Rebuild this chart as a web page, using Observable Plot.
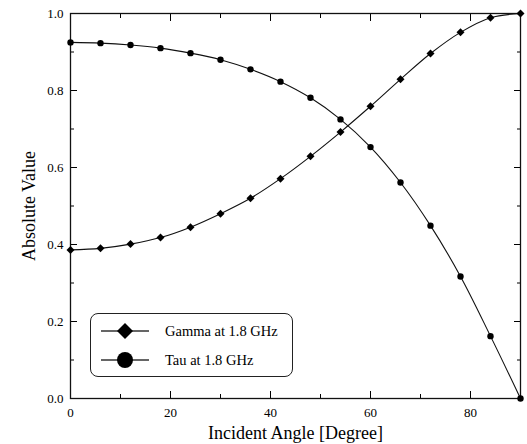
<!DOCTYPE html>
<html>
<head>
<meta charset="utf-8">
<script src="https://cdn.jsdelivr.net/npm/d3@7"></script>
<script src="https://cdn.jsdelivr.net/npm/@observablehq/plot@0.6"></script>
<style>
  body { margin: 0; background: #fff; }
  #wrap { position: relative; width: 527px; height: 444px; font-family: "Liberation Serif", "Times New Roman", serif; }
  #wrap svg, #wrap svg text { font-family: "Liberation Serif", "Times New Roman", serif !important; }
  #legend { position: absolute; left: 90px; top: 313px; width: 203px; height: 64px; box-sizing: border-box;
    border: 1.2px solid #222; border-radius: 8px; background: #fff; font-size: 14.5px; color: #000; }
  .item { position: absolute; left: 0; display: flex; align-items: center; }
  .item svg { display: block; }
  .item span { margin-left: 14px; }
</style>
</head>
<body>
<div id="wrap"></div>
<script>
const angles = [0, 6, 12, 18, 24, 30, 36, 42, 48, 54, 60, 66, 72, 78, 84, 90];
const gamma = [0.386, 0.390, 0.401, 0.418, 0.445, 0.480, 0.520, 0.571, 0.629, 0.692, 0.759, 0.829, 0.896, 0.951, 0.989, 1.0];
const tau = [0.925, 0.923, 0.918, 0.910, 0.897, 0.880, 0.855, 0.823, 0.781, 0.725, 0.653, 0.561, 0.449, 0.317, 0.162, 0.0];
const seriesNames = ["Gamma at 1.8 GHz", "Tau at 1.8 GHz"];
const xMajor = [0, 20, 40, 60, 80];
const xMinor = [10, 30, 50, 70, 90];
const yMajor = [0, 0.2, 0.4, 0.6, 0.8, 1.0];
const yMinor = [0.1, 0.3, 0.5, 0.7, 0.9];
const xTitle = "Incident Angle [Degree]";
const yTitle = "Absolute Value";

const gData = angles.map((a, i) => ({x: a, y: gamma[i]}));
const tData = angles.map((a, i) => ({x: a, y: tau[i]}));
const blank = () => "";

const chart = Plot.plot({
  width: 527,
  height: 444,
  marginLeft: 70,
  marginRight: 7,
  marginTop: 13,
  marginBottom: 46,
  style: {fontFamily: "\"Liberation Serif\", serif", fontSize: "13px", color: "#000", background: "white"},
  x: {domain: [0, 90]},
  y: {domain: [0, 1]},
  marks: [
    Plot.axisX(xMajor, {anchor: "bottom", tickSize: -7, tickFormat: blank, label: null}),
    Plot.axisX(xMajor, {anchor: "top", tickSize: -7, tickFormat: blank, label: null}),
    Plot.axisX(xMinor, {anchor: "bottom", tickSize: -4, tickFormat: blank, label: null}),
    Plot.axisX(xMinor, {anchor: "top", tickSize: -4, tickFormat: blank, label: null}),
    Plot.axisY(yMajor, {anchor: "left", tickSize: -7, tickFormat: blank, label: null}),
    Plot.axisY(yMajor, {anchor: "right", tickSize: -7, tickFormat: blank, label: null}),
    Plot.axisY(yMinor, {anchor: "left", tickSize: -4, tickFormat: blank, label: null}),
    Plot.axisY(yMinor, {anchor: "right", tickSize: -4, tickFormat: blank, label: null}),
    Plot.axisX(xMajor, {anchor: "bottom", tickSize: 0, tickPadding: 9, tickFormat: d3.format("d"),
      label: xTitle, labelAnchor: "center", labelOffset: 40, labelArrow: "none"}),
    Plot.axisY(yMajor, {anchor: "left", tickSize: 0, tickPadding: 7, tickFormat: d3.format(".1f"),
      label: yTitle, labelAnchor: "center", labelOffset: 48, labelArrow: "none"}),
    Plot.frame({stroke: "#111", strokeWidth: 1.3}),
    Plot.line(gData, {x: "x", y: "y", curve: "catmull-rom", stroke: "#111", strokeWidth: 1.1}),
    Plot.line(tData, {x: "x", y: "y", curve: "catmull-rom", stroke: "#111", strokeWidth: 1.1}),
    Plot.dot(gData, {x: "x", y: "y", symbol: "diamond2", r: 3.6, fill: "#000", stroke: "none"}),
    Plot.dot(tData, {x: "x", y: "y", symbol: "circle", r: 3.2, fill: "#000", stroke: "none"})
  ]
});

const wrap = document.getElementById("wrap");
wrap.appendChild(chart);

chart.querySelectorAll("g[aria-label='x-axis label'] text, g[aria-label='y-axis label'] text").forEach(t => {
  t.style.fontSize = "18px";
});

const legend = document.createElement("div");
legend.id = "legend";
const icons = [
  `<svg width="60" height="20"><line x1="10" y1="10" x2="58" y2="10" stroke="#666" stroke-width="1.8"/><path d="M34,2 L42,10 L34,18 L26,10 Z" fill="#000"/></svg>`,
  `<svg width="60" height="20"><line x1="10" y1="10" x2="58" y2="10" stroke="#666" stroke-width="1.8"/><circle cx="34" cy="10" r="8" fill="#000"/></svg>`
];
seriesNames.forEach((name, i) => {
  const it = document.createElement("div");
  it.className = "item";
  it.style.top = (i === 0 ? 7 : 36) + "px";
  it.innerHTML = icons[i] + `<span>${name}</span>`;
  legend.appendChild(it);
});
wrap.appendChild(legend);
</script>
</body>
</html>
